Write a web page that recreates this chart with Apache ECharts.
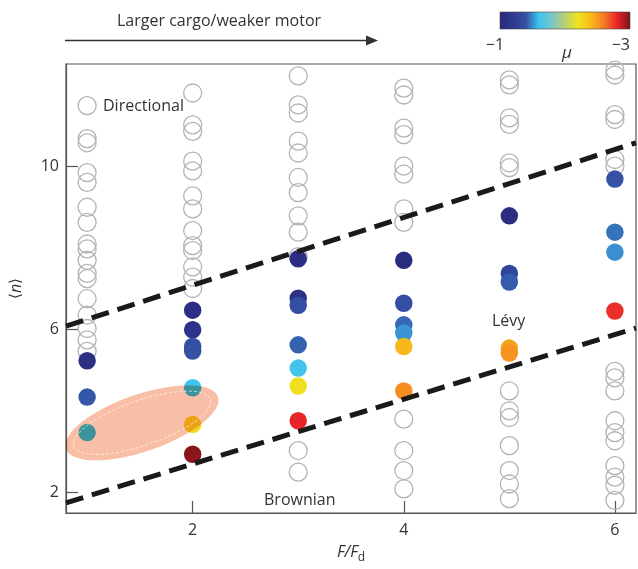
<!DOCTYPE html>
<html>
<head>
<meta charset="utf-8">
<script src="https://cdn.jsdelivr.net/npm/echarts@6/dist/echarts.min.js"></script>
<style>
html,body{margin:0;padding:0;background:#fff;}
#chart{width:638px;height:569px;}
</style>
</head>
<body>
<div id="chart"></div>
<script>
// ---- data ----
const forceRatio = [1, 2, 3, 4, 5, 6];               // F/Fd columns
const xTicks = [2, 4, 6];
const yTicks = [2, 6, 10];

// open circles (directional / Brownian runs), <n> per column
const openN = [
  [11.48, 10.67, 10.57, 9.84, 9.60, 8.99, 8.62, 8.09, 7.97, 7.69, 7.37, 7.24, 6.75, 6.35, 6.02, 5.74, 5.46],
  [11.79, 11.01, 10.85, 10.12, 9.88, 9.27, 8.95, 8.42, 8.05, 7.93, 7.53, 7.28, 7.00],
  [12.21, 11.50, 11.30, 10.61, 10.32, 9.72, 9.35, 8.78, 8.38, 7.78, 3.03, 2.50],
  [11.91, 11.74, 10.93, 10.77, 10.00, 9.80, 8.95, 8.62, 3.80, 3.03, 2.54, 2.09],
  [12.11, 11.99, 11.18, 11.02, 10.08, 9.96, 4.49, 4.00, 3.84, 3.15, 2.54, 2.21, 1.85],
  [12.35, 12.23, 11.26, 11.14, 10.16, 10.00, 4.97, 4.81, 4.49, 3.76, 3.47, 3.27, 2.66, 2.38, 2.18, 1.81]
];

// filled circles (Lévy runs): <n> and exponent mu per column
const levyN = [
  [5.23, 4.34, 3.47],
  [6.47, 5.99, 5.58, 5.47, 4.57, 3.67, 2.94],
  [7.73, 6.76, 6.59, 5.62, 5.05, 4.61, 3.76],
  [7.69, 6.64, 6.11, 5.91, 5.58, 4.49],
  [8.78, 7.37, 7.16, 5.54, 5.42],
  [9.68, 8.38, 7.89, 6.45]
];
const levyMu = [
  [-1.06, -1.41, -1.60],
  [-1.06, -1.14, -1.38, -1.40, -1.60, -2.24, -2.97],
  [-1.06, -1.12, -1.38, -1.43, -1.62, -2.22, -2.80],
  [-1.04, -1.38, -1.44, -1.52, -2.40, -2.54],
  [-1.04, -1.31, -1.42, -2.47, -2.52],
  [-1.40, -1.46, -1.51, -2.77]
];

// regime boundaries (dashed)
const upperBoundary = [[0.8, 6.08], [6.2, 10.57]];
const lowerBoundary = [[0.8, 1.75], [6.2, 6.03]];
// shaded region centre
const shadedCentre = [1.52, 3.71];

// colour map for mu (from -1 to -3)
const muRange = [-1, -3];
const muColors = ['#29297c', '#2e3890', '#3451a4', '#3ec4f0', '#79c6c8', '#b7cf6e',
                  '#efe31f', '#f9b81a', '#f47a26', '#e9232a', '#7a1416'];

// ---- build series data ----
const openData = [];
forceRatio.forEach((x, i) => openN[i].forEach(v => openData.push([x, v])));
const levyData = [];
forceRatio.forEach((x, i) => levyN[i].forEach((v, j) => levyData.push([x, v, levyMu[i][j]])));

const FONT = '"Open Sans", "DejaVu Sans", sans-serif';
const TXT = '#333333';
const chart = echarts.init(document.getElementById('chart'), null, {renderer: 'canvas'});

function ellipseItem(params, api, outline) {
  const c = api.coord([api.value(0), api.value(1)]);
  const unit = api.size([1, 0])[0];
  const rx = 0.76 * unit, ry = 0.27 * unit;
  const rot = 19 * Math.PI / 180;
  if (!outline) {
    return {type: 'ellipse', x: c[0], y: c[1], rotation: rot,
            shape: {cx: 0, cy: 0, rx: rx, ry: ry},
            style: {fill: '#f9bfa6'}};
  }
  return {type: 'ellipse', x: c[0], y: c[1], rotation: rot,
          shape: {cx: 0, cy: 0, rx: rx - 8, ry: ry - 6},
          style: {fill: 'none', stroke: 'rgba(255,255,255,0.7)', lineWidth: 0.8, lineDash: [3, 2]}};
}

const gradStops = muColors.map((c, i) => ({offset: i / (muColors.length - 1), color: c}));

chart.setOption({
  backgroundColor: '#fff',
  animation: false,
  grid: {left: 65, top: 64, width: 571, height: 452, show: true, borderColor: '#555', borderWidth: 1.2, backgroundColor: 'transparent'},
  xAxis: {
    type: 'value', min: 0.8, max: 6.2,
    name: '{i|F/F}{s|d}', nameLocation: 'middle', nameGap: 27,
    nameTextStyle: {rich: {i: {fontFamily: FONT, fontStyle: 'italic', fontSize: 16, color: TXT},
                           s: {fontFamily: FONT, fontSize: 12, color: TXT, verticalAlign: 'bottom', padding: [12, 0, 0, 0]}}},
    axisLine: {show: true, lineStyle: {color: '#555', width: 1.2}},
    axisTick: {show: true, inside: true, length: 12, customValues: xTicks, lineStyle: {color: '#555', width: 1.2}},
    axisLabel: {customValues: xTicks, fontFamily: FONT, fontSize: 16, color: TXT, margin: 9},
    splitLine: {show: false}
  },
  yAxis: {
    type: 'value', min: 1.5, max: 12.5,
    name: '{a|⟨}{i|n}{a|⟩}', nameLocation: 'middle', nameGap: 42, nameRotate: 90,
    nameTextStyle: {rich: {a: {fontFamily: '"DejaVu Sans", sans-serif', fontSize: 15, color: TXT},
                           i: {fontFamily: FONT, fontStyle: 'italic', fontSize: 16, color: TXT}}},
    axisLine: {show: true, lineStyle: {color: '#555', width: 1.2}},
    axisTick: {show: true, inside: true, length: 12, customValues: yTicks, lineStyle: {color: '#555', width: 1.2}},
    axisLabel: {customValues: yTicks, fontFamily: FONT, fontSize: 16, color: TXT, margin: 7},
    splitLine: {show: false}
  },
  visualMap: {
    type: 'continuous', show: false, seriesIndex: 1, dimension: 2,
    min: muRange[1], max: muRange[0],
    inRange: {color: muColors.slice().reverse()}
  },
  series: [
    {
      type: 'scatter', name: 'open', data: openData, symbol: 'circle', symbolSize: 18, z: 2,
      itemStyle: {color: 'rgba(255,255,255,0)', borderColor: '#b3b3b3', borderWidth: 1.3, opacity: 1},
      emphasis: {disabled: true}
    },
    {
      type: 'scatter', name: 'levy', data: levyData, symbol: 'circle', symbolSize: 17.5, z: 3,
      itemStyle: {opacity: 1},
      emphasis: {disabled: true}
    },
    {
      type: 'line', data: upperBoundary, symbol: 'none', z: 4, silent: true,
      lineStyle: {color: '#1a1a1a', width: 5, type: [18, 9], cap: 'butt'}
    },
    {
      type: 'line', data: lowerBoundary, symbol: 'none', z: 4, silent: true,
      lineStyle: {color: '#1a1a1a', width: 5, type: [18, 9], cap: 'butt'}
    },
    {
      type: 'custom', data: [shadedCentre], z: 5, silent: true, blendMode: 'multiply',
      renderItem: (p, api) => ellipseItem(p, api, false)
    },
    {
      type: 'custom', data: [shadedCentre], z: 6, silent: true,
      renderItem: (p, api) => ellipseItem(p, api, true)
    }
  ],
  graphic: [
    {type: 'text', left: 117, top: 13, style: {text: 'Larger cargo/weaker motor', fontFamily: FONT, fontSize: 16, fill: TXT}},
    {type: 'line', shape: {x1: 65, y1: 40.5, x2: 370, y2: 40.5}, style: {stroke: '#333', lineWidth: 1.5}},
    {type: 'polygon', shape: {points: [[366, 35.5], [378, 40.5], [366, 45.5]]}, style: {fill: '#333'}},
    {type: 'rect', shape: {x: 500, y: 12, width: 130, height: 17},
     style: {fill: new echarts.graphic.LinearGradient(0, 0, 1, 0, gradStops), stroke: '#444', lineWidth: 0.6}},
    {type: 'text', x: 495, y: 45, style: {text: '−1', fontFamily: FONT, fontSize: 16, fill: TXT, align: 'center', verticalAlign: 'middle'}},
    {type: 'text', x: 630, y: 45, style: {text: '−3', fontFamily: FONT, fontSize: 16, fill: TXT, align: 'right', verticalAlign: 'middle'}},
    {type: 'text', x: 567, y: 53, style: {text: 'μ', fontFamily: FONT, fontStyle: 'italic', fontSize: 17, fill: TXT, align: 'center', verticalAlign: 'middle'}},
    {type: 'text', x: 103, y: 106, style: {text: 'Directional', fontFamily: FONT, fontSize: 16, fill: TXT, verticalAlign: 'middle'}, z: 10},
    {type: 'text', x: 492, y: 321, style: {text: 'Lévy', fontFamily: FONT, fontSize: 16, fill: TXT, verticalAlign: 'middle'}, z: 10},
    {type: 'text', x: 264, y: 500, style: {text: 'Brownian', fontFamily: FONT, fontSize: 16, fill: TXT, verticalAlign: 'middle'}, z: 10}
  ]
});
</script>
</body>
</html>
